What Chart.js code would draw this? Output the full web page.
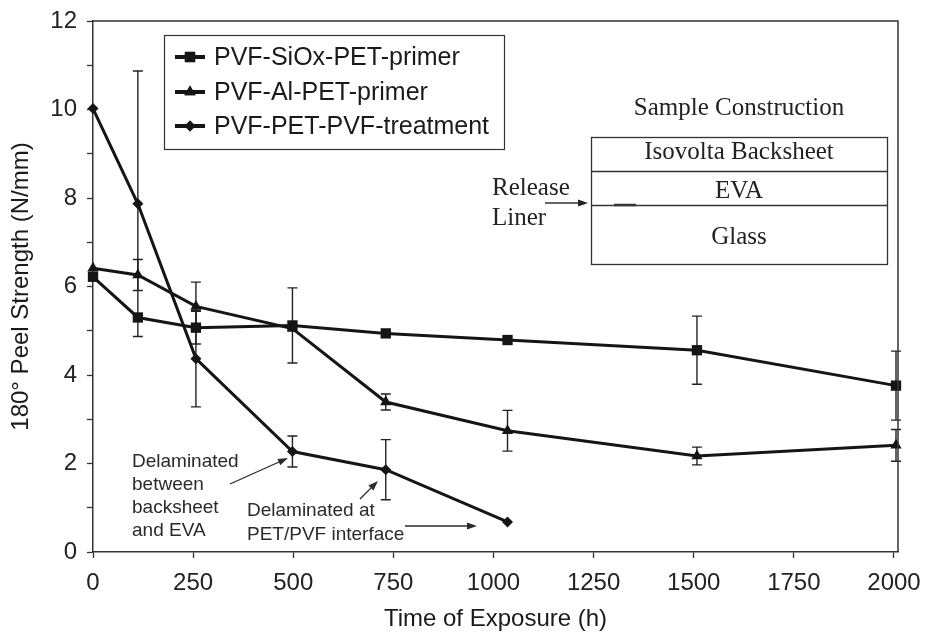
<!DOCTYPE html>
<html>
<head>
<meta charset="utf-8">
<script src="https://cdn.jsdelivr.net/npm/chart.js@4.4.1/dist/chart.umd.min.js"></script>
<style>
  html, body { margin: 0; padding: 0; background: #fff; }
  #wrap { width: 925px; height: 636px; }
</style>
</head>
<body>
<div id="wrap"><canvas id="peelChart" width="925" height="636"></canvas></div>
<script>
// values
const seriesNames = ['PVF-SiOx-PET-primer', 'PVF-Al-PET-primer', 'PVF-PET-PVF-treatment'];

const sioxHours = [0, 112, 257, 498, 731, 1035, 1508, 2005];
const sioxPeel  = [6.22, 5.30, 5.07, 5.12, 4.94, 4.79, 4.56, 3.76];
const sioxErr   = [0, 0, 0.37, 0.85, 0, 0, 0.77, 0.78];

const alHours = [0, 112, 257, 498, 731, 1035, 1508, 2005];
const alPeel  = [6.41, 6.26, 5.55, 5.05, 3.39, 2.74, 2.17, 2.41];
const alErr   = [0, 0.35, 0.55, 0, 0.18, 0.46, 0.20, 0.36];

const treatHours = [0, 112, 257, 498, 731, 1035];
const treatPeel  = [10.02, 7.87, 4.37, 2.27, 1.86, 0.68];
const treatErr   = [0, 3.0, 1.09, 0.35, 0.68, 0];

const xTicks = [0, 250, 500, 750, 1000, 1250, 1500, 1750, 2000];
const yLabelTicks = [0, 2, 4, 6, 8, 10, 12];

const SANS = '"Liberation Sans", Arial, sans-serif';
const SERIF = '"Liberation Serif", "Times New Roman", serif';
const INK = '#151515';

function pts(xs, ys) {
  return xs.map((x, i) => ({ x: x, y: ys[i] }));
}

function makeSet(label, xs, ys, errs, style, radius) {
  return {
    label: label,
    data: pts(xs, ys),
    errors: errs,
    borderColor: INK,
    backgroundColor: INK,
    borderWidth: 3,
    pointStyle: style,
    pointRadius: radius,
    pointBorderWidth: 0,
    pointBackgroundColor: INK,
    tension: 0,
    clip: false
  };
}

// vertical error bars with caps
const errorBars = {
  id: 'errorBars',
  beforeDatasetsDraw(chart) {
    const { ctx, scales: { x, y } } = chart;
    ctx.save();
    ctx.strokeStyle = '#222';
    ctx.lineWidth = 1.4;
    chart.data.datasets.forEach(ds => {
      ds.data.forEach((p, i) => {
        const e = ds.errors[i];
        if (!e) return;
        const px = x.getPixelForValue(p.x);
        const top = y.getPixelForValue(p.y + e);
        const bot = y.getPixelForValue(p.y - e);
        ctx.beginPath();
        ctx.moveTo(px, top); ctx.lineTo(px, bot);
        ctx.moveTo(px - 5, top); ctx.lineTo(px + 5, top);
        ctx.moveTo(px - 5, bot); ctx.lineTo(px + 5, bot);
        ctx.stroke();
      });
    });
    ctx.restore();
  }
};

function arrow(ctx, x1, y1, x2, y2) {
  const a = Math.atan2(y2 - y1, x2 - x1);
  const len = 10, half = 3.5;
  ctx.beginPath();
  ctx.moveTo(x1, y1);
  ctx.lineTo(x2 - Math.cos(a) * len * 0.8, y2 - Math.sin(a) * len * 0.8);
  ctx.stroke();
  ctx.beginPath();
  ctx.moveTo(x2, y2);
  ctx.lineTo(x2 - Math.cos(a) * len - Math.sin(a) * half, y2 - Math.sin(a) * len + Math.cos(a) * half);
  ctx.lineTo(x2 - Math.cos(a) * len + Math.sin(a) * half, y2 - Math.sin(a) * len - Math.cos(a) * half);
  ctx.closePath();
  ctx.fill();
}

// frame, legend box, notes and the sample inset
const extras = {
  id: 'extras',
  afterDraw(chart) {
    const ctx = chart.ctx;
    const a = chart.chartArea;
    ctx.save();

    // top and right frame lines
    ctx.strokeStyle = '#333';
    ctx.lineWidth = 1.5;
    ctx.beginPath();
    ctx.moveTo(a.left, a.top); ctx.lineTo(a.right, a.top); ctx.lineTo(a.right, a.bottom);
    ctx.stroke();

    // legend
    ctx.fillStyle = '#fff';
    ctx.fillRect(164, 35, 340, 114);
    ctx.lineWidth = 1.2;
    ctx.strokeRect(164.5, 35.5, 340, 114);
    const rows = [57, 92, 126];
    chart.data.datasets.forEach((ds, i) => {
      const ly = rows[i];
      ctx.strokeStyle = INK;
      ctx.lineWidth = 4;
      ctx.beginPath(); ctx.moveTo(175, ly); ctx.lineTo(205, ly); ctx.stroke();
      ctx.fillStyle = INK;
      Chart.helpers.drawPoint(ctx, { pointStyle: ds.pointStyle, radius: ds.pointRadius, borderWidth: 0 }, 190, ly);
      ctx.fill();
      ctx.fillStyle = '#1a1a1a';
      ctx.font = '25px ' + SANS;
      ctx.textAlign = 'left';
      ctx.textBaseline = 'middle';
      ctx.fillText(ds.label, 214, ly + 1);
    });

    // delamination notes
    ctx.fillStyle = '#2a2a2a';
    ctx.strokeStyle = '#2a2a2a';
    ctx.lineWidth = 1.3;
    ctx.font = '19px ' + SANS;
    ctx.textAlign = 'left';
    ctx.textBaseline = 'middle';
    ['Delaminated', 'between', 'backsheet', 'and EVA'].forEach((t, i) => ctx.fillText(t, 132, 462 + i * 23));
    ctx.fillText('Delaminated at', 247, 511);
    ctx.fillText('PET/PVF interface', 247, 535);
    arrow(ctx, 230, 484, 288, 458);
    arrow(ctx, 360, 499, 378, 481);
    arrow(ctx, 405, 526, 477, 526);

    // sample construction inset
    ctx.fillStyle = '#222';
    ctx.strokeStyle = '#333';
    ctx.font = '25px ' + SERIF;
    ctx.textAlign = 'center';
    ctx.fillText('Sample Construction', 739, 108);
    ctx.lineWidth = 1.3;
    ctx.strokeRect(591.5, 137.5, 296, 127);
    ctx.beginPath();
    ctx.moveTo(591, 171.5); ctx.lineTo(888, 171.5);
    ctx.moveTo(591, 205.5); ctx.lineTo(888, 205.5);
    ctx.stroke();
    ctx.fillText('Isovolta Backsheet', 739, 152);
    ctx.fillText('EVA', 739, 191);
    ctx.fillText('Glass', 739, 237);
    ctx.textAlign = 'left';
    ctx.fillText('Release', 492, 188);
    ctx.fillText('Liner', 492, 218);
    ctx.lineWidth = 1.6;
    ctx.fillStyle = '#222';
    arrow(ctx, 545, 203, 588, 203);
    ctx.lineWidth = 2.5;
    ctx.beginPath(); ctx.moveTo(614, 205); ctx.lineTo(636, 205); ctx.stroke();

    ctx.restore();
  }
};

const ctx = document.getElementById('peelChart').getContext('2d');
new Chart(ctx, {
  type: 'line',
  data: {
    datasets: [
      makeSet(seriesNames[0], sioxHours, sioxPeel, sioxErr, 'rect', 7.3),
      makeSet(seriesNames[1], alHours, alPeel, alErr, 'triangle', 6.5),
      makeSet(seriesNames[2], treatHours, treatPeel, treatErr, 'rectRot', 5.5)
    ]
  },
  options: {
    responsive: false,
    animation: false,
    devicePixelRatio: 1,
    layout: { padding: { top: 21, right: 27, left: 0, bottom: 0 } },
    plugins: {
      legend: { display: false },
      tooltip: { enabled: false }
    },
    scales: {
      x: {
        type: 'linear',
        min: 0,
        max: 2010,
        afterBuildTicks: s => { s.ticks = xTicks.map(v => ({ value: v })); },
        afterFit: s => { s.height = 84; s.paddingLeft = 0; s.paddingRight = 0; },
        border: { display: true, color: '#333', width: 1.5 },
        grid: { display: true, drawOnChartArea: false, drawTicks: true, tickLength: 6, tickColor: '#333', tickWidth: 1.3 },
        ticks: { color: '#222', padding: 11, maxRotation: 0, autoSkip: false, font: { family: SANS, size: 24 }, callback: v => String(v) },
        title: { display: true, text: 'Time of Exposure (h)', color: '#1a1a1a', padding: { top: 0, bottom: 2 }, font: { family: SANS, size: 24 } }
      },
      y: {
        min: 0,
        max: 12,
        ticks: {
          stepSize: 1,
          autoSkip: false,
          color: '#222',
          padding: 10,
          font: { family: SANS, size: 24 },
          callback: v => (yLabelTicks.includes(v) ? String(v) : '')
        },
        afterFit: s => { s.width = 93; s.paddingTop = 0; s.paddingBottom = 0; },
        border: { display: true, color: '#333', width: 1.5 },
        grid: { display: true, drawOnChartArea: false, drawTicks: true, tickLength: 6, tickColor: '#333', tickWidth: 1.3 },
        title: { display: true, text: '180° Peel Strength (N/mm)', color: '#1a1a1a', padding: { top: 7, bottom: 0 }, font: { family: SANS, size: 24 } }
      }
    }
  },
  plugins: [errorBars, extras]
});
</script>
</body>
</html>
